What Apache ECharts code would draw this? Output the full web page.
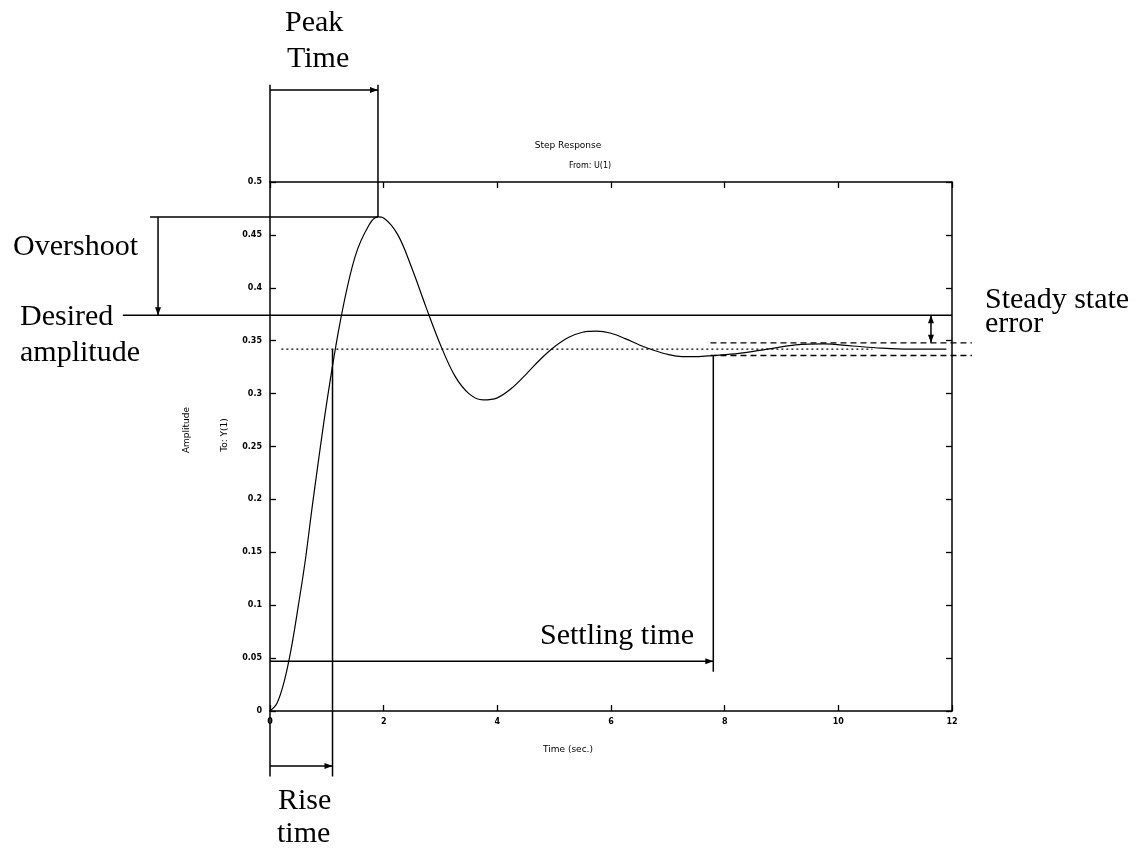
<!DOCTYPE html>
<html><head><meta charset="utf-8">
<script src="https://cdn.jsdelivr.net/npm/echarts@6/dist/echarts.min.js"></script>
<style>html,body{margin:0;padding:0;background:#fff}#c{width:1139px;height:850px}</style>
</head><body><div id="c"></div>
<script>
// ---- data ----
const timeValues = [0, 0.12, 0.25, 0.37, 0.5, 0.62, 0.75, 1.0, 1.25, 1.5, 1.75, 1.9, 2.0, 2.25, 2.5, 2.75, 3.0, 3.25, 3.5, 3.75, 4.0, 4.25, 4.5, 4.75, 5.0, 5.25, 5.5, 5.75, 6.0, 6.25, 6.5, 6.75, 7.0, 7.25, 7.5, 7.8, 8.25, 8.75, 9.25, 9.75, 10.25, 10.75, 11.25, 11.9];
const amplitudeValues = [0, 0.007, 0.028, 0.058, 0.100, 0.142, 0.196, 0.292, 0.372, 0.430, 0.460, 0.467, 0.466, 0.450, 0.418, 0.381, 0.346, 0.317, 0.300, 0.294, 0.296, 0.305, 0.318, 0.332, 0.344, 0.353, 0.358, 0.359, 0.357, 0.352, 0.346, 0.341, 0.337, 0.335, 0.335, 0.336, 0.338, 0.342, 0.346, 0.347, 0.345, 0.343, 0.342, 0.342];
const xTickLabels = ['0', '2', '4', '6', '8', '10', '12'];
const desiredAmplitude = 0.374;
const finalValue = 0.342;
const bandUpper = 0.348;
const bandLower = 0.336;
const peakTime = 1.9;
const peakValue = 0.467;
const riseTime = 1.1;
const settlingTime = 7.8;

// ---- annotation segments (data units) ----
const segs = [
  {x1: 0, y1: 0.5, x2: 0, y2: 0.592},
  {x1: peakTime, y1: peakValue, x2: peakTime, y2: 0.592},
  {x1: 0, y1: 0.587, x2: peakTime, y2: 0.587, a2: 1},
  {x1: -2.11, y1: peakValue, x2: peakTime, y2: peakValue},
  {x1: -1.97, y1: peakValue, x2: -1.97, y2: desiredAmplitude, a2: 1},
  {x1: -2.59, y1: desiredAmplitude, x2: 12, y2: desiredAmplitude},
  {x1: 0.2, y1: finalValue, x2: 10.6, y2: finalValue, dash: [2, 3], w: 1.2},
  {x1: 7.75, y1: bandUpper, x2: 12.35, y2: bandUpper, dash: [6, 4], w: 1.3},
  {x1: 7.75, y1: bandLower, x2: 12.35, y2: bandLower, dash: [6, 4], w: 1.3},
  {x1: 11.63, y1: desiredAmplitude, x2: 11.63, y2: bandUpper, a1: 1, a2: 1},
  {x1: riseTime, y1: finalValue, x2: riseTime, y2: -0.062},
  {x1: 0, y1: 0, x2: 0, y2: -0.062},
  {x1: 0, y1: -0.052, x2: riseTime, y2: -0.052, a2: 1},
  {x1: settlingTime, y1: bandLower, x2: settlingTime, y2: 0.037},
  {x1: 0, y1: 0.047, x2: settlingTime, y2: 0.047, a2: 1}
];

function arrowHead(tip, from, L, W) {
  const dx = tip[0] - from[0], dy = tip[1] - from[1];
  const len = Math.hypot(dx, dy) || 1;
  const ux = dx / len, uy = dy / len;
  const bx = tip[0] - ux * L, by = tip[1] - uy * L;
  return {type: 'polygon', shape: {points: [tip, [bx - uy * W, by + ux * W], [bx + uy * W, by - ux * W]]}, style: {fill: '#000'}};
}

const chart = echarts.init(document.getElementById('c'), null, {renderer: 'canvas'});
const small = {fontFamily: 'DejaVu Sans', fontSize: 8, fontWeight: 'bold', color: '#000'};
const serif = '30px "Liberation Serif"';

const axisCommon = {
  type: 'value',
  axisLine: {show: true, onZero: false, lineStyle: {color: '#000', width: 1.5}},
  axisTick: {show: true, inside: true, length: 6, lineStyle: {color: '#000', width: 1.3}},
  splitLine: {show: false}
};

chart.setOption({
  animation: false,
  backgroundColor: '#fff',
  grid: {left: 270, right: 187, top: 182, bottom: 139, containLabel: false, outerBoundsMode: 'none'},
  xAxis: [
    Object.assign({}, axisCommon, {min: 0, max: 12, interval: 2, position: 'bottom',
      axisLabel: Object.assign({}, small, {margin: 7, formatter: v => xTickLabels[Math.round(v / 2)]})}),
    Object.assign({}, axisCommon, {min: 0, max: 12, interval: 2, position: 'top', axisLabel: {show: false}})
  ],
  yAxis: [
    Object.assign({}, axisCommon, {min: 0, max: 0.5, interval: 0.05, position: 'left',
      axisLabel: Object.assign({}, small, {margin: 8})}),
    Object.assign({}, axisCommon, {min: 0, max: 0.5, interval: 0.05, position: 'right', axisLabel: {show: false}})
  ],
  graphic: [
    {type: 'text', left: 285, top: 8, style: {text: 'Peak', font: serif, fill: '#000'}},
    {type: 'text', left: 287, top: 44, style: {text: 'Time', font: serif, fill: '#000'}},
    {type: 'text', left: 13, top: 232, style: {text: 'Overshoot', font: serif, fill: '#000'}},
    {type: 'text', left: 20, top: 302, style: {text: 'Desired', font: serif, fill: '#000'}},
    {type: 'text', left: 20, top: 338, style: {text: 'amplitude', font: serif, fill: '#000'}},
    {type: 'text', left: 985, top: 285, style: {text: 'Steady state', font: serif, fill: '#000'}},
    {type: 'text', left: 985, top: 309, style: {text: 'error', font: serif, fill: '#000'}},
    {type: 'text', left: 540, top: 621, style: {text: 'Settling time', font: serif, fill: '#000'}},
    {type: 'text', left: 278, top: 786, style: {text: 'Rise', font: serif, fill: '#000'}},
    {type: 'text', left: 277, top: 819, style: {text: 'time', font: serif, fill: '#000'}},
    {type: 'text', x: 568, y: 146, style: {text: 'Step Response', font: '9px "DejaVu Sans"', fill: '#000', align: 'center', verticalAlign: 'middle'}},
    {type: 'text', x: 590, y: 166, style: {text: 'From: U(1)', font: '8px "DejaVu Sans"', fill: '#000', align: 'center', verticalAlign: 'middle'}},
    {type: 'text', x: 568, y: 750, style: {text: 'Time (sec.)', font: '9px "DejaVu Sans"', fill: '#000', align: 'center', verticalAlign: 'middle'}},
    {type: 'text', x: 187, y: 430, rotation: Math.PI / 2, style: {text: 'Amplitude', font: '9px "DejaVu Sans"', fill: '#000', align: 'center', verticalAlign: 'middle'}},
    {type: 'text', x: 225, y: 435, rotation: Math.PI / 2, style: {text: 'To: Y(1)', font: '9px "DejaVu Sans"', fill: '#000', align: 'center', verticalAlign: 'middle'}}
  ],
  series: [
    {
      type: 'line',
      data: timeValues.map((t, i) => [t, amplitudeValues[i]]),
      showSymbol: false,
      smooth: 0.35,
      lineStyle: {color: '#000', width: 1.2},
      z: 4
    },
    {
      type: 'custom',
      clip: false,
      silent: true,
      z: 3,
      encode: {x: [0, 2], y: [1, 3]},
      data: segs.map(s => [s.x1, s.y1, s.x2, s.y2]),
      renderItem: (params, api) => {
        const s = segs[params.dataIndex];
        const p1 = api.coord([s.x1, s.y1]);
        const p2 = api.coord([s.x2, s.y2]);
        const children = [{type: 'line', shape: {x1: p1[0], y1: p1[1], x2: p2[0], y2: p2[1]},
          style: {stroke: '#000', lineWidth: s.w || 1.5, lineDash: s.dash || null}}];
        if (s.a1) children.push(arrowHead(p1, p2, 8, 3));
        if (s.a2) children.push(arrowHead(p2, p1, 8, 3));
        return {type: 'group', children: children};
      }
    }
  ]
});
</script>
</body></html>
